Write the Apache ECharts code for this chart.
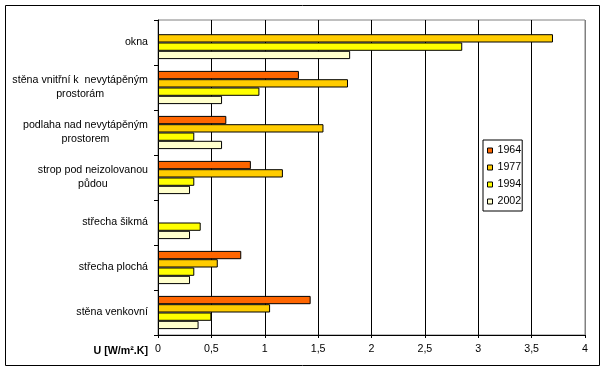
<!DOCTYPE html>
<html><head><meta charset="utf-8">
<script src="https://cdn.jsdelivr.net/npm/echarts@6/dist/echarts.min.js"></script>
<style>html,body{margin:0;padding:0;background:#fff}#c{width:605px;height:371px}</style>
</head><body><div id="c"></div>
<script>
const categories = [
  'okna',
  'stěna vnitřní k  nevytápěným\nprostorám',
  'podlaha nad nevytápěným\nprostorem',
  'strop pod neizolovanou\npůdou',
  'střecha šikmá',
  'střecha plochá',
  'stěna venkovní'
];
const years = ['1964', '1977', '1994', '2002'];
const s1964 = [null, 1.32, 0.64, 0.87, null, 0.78, 1.43];
const s1977 = [3.7, 1.78, 1.55, 1.17, null, 0.56, 1.05];
const s1994 = [2.85, 0.95, 0.34, 0.34, 0.4, 0.34, 0.5];
const s2002 = [1.8, 0.6, 0.6, 0.3, 0.3, 0.3, 0.38];
const axisName = 'U [W/m².K]';

const colors = ['#FF6600', '#FFCC00', '#FFFF00', '#FFFFCC'];
const FONT = '"Liberation Sans", Arial, sans-serif';
const FS = 10.67;
const seriesData = [s1964, s1977, s1994, s2002];

const chart = echarts.init(document.getElementById('c'), null, {renderer: 'canvas'});
chart.setOption({
  animation: false,
  backgroundColor: '#fff',
  textStyle: {fontFamily: FONT, fontSize: FS, color: '#000'},
  grid: {left: 158, top: 20, width: 427, height: 315, show: true, borderColor: '#808080', borderWidth: 1, backgroundColor: 'transparent'},
  legend: {
    orient: 'vertical', left: 483, top: 140,
    padding: [5, 1, 4, 4], itemWidth: 5, itemHeight: 5, itemGap: 6, itemTextGap: 2,
    borderColor: '#000', borderWidth: 1, backgroundColor: '#fff',
    icon: 'rect',
    itemStyle: {borderColor: '#000', borderWidth: 1},
    textStyle: {fontFamily: FONT, fontSize: FS, color: '#000'},
    data: years
  },
  xAxis: {
    type: 'value', min: 0, max: 4, interval: 0.5,
    name: axisName, nameLocation: 'start', nameGap: 10,
    nameTextStyle: {fontFamily: FONT, fontSize: FS, fontWeight: 'bold', color: '#000', align: 'right', verticalAlign: 'top', padding: [11, 0, 0, 0]},
    axisLine: {show: true, lineStyle: {color: '#000', width: 1}},
    axisTick: {show: true, length: 3, lineStyle: {color: '#000'}},
    axisLabel: {margin: 9, color: '#000', fontFamily: FONT, fontSize: FS,
      formatter: v => String(v).replace('.', ',')},
    splitLine: {show: true, lineStyle: {color: ['#000','#000','#000','#000','#000','#000','#000','#000','#808080'], width: 1}}
  },
  yAxis: {
    type: 'category', inverse: true, data: categories,
    axisLine: {show: true, lineStyle: {color: '#000', width: 1}},
    axisTick: {show: true, length: 4, lineStyle: {color: '#000'}},
    splitLine: {show: false},
    axisLabel: {
      margin: 10, color: '#000', fontFamily: FONT, fontSize: FS, align: 'right',
      formatter: v => v.split('\n').map(l => '{c|' + l + '}').join('\n'),
      rich: {c: {align: 'center', fontFamily: FONT, fontSize: FS, lineHeight: 14, color: '#000'}}
    }
  },
  series: years.map((y, i) => ({
    name: y, type: 'bar', data: seriesData[i],
    barWidth: 8.3, barGap: '0%',
    itemStyle: {color: colors[i], borderColor: '#000', borderWidth: 1}
  })),
  graphic: [{
    type: 'rect', silent: true, z: 100,
    shape: {x: 5.5, y: 5.5, width: 594, height: 360},
    style: {fill: null, stroke: '#000', lineWidth: 1}
  }]
});
</script></body></html>
